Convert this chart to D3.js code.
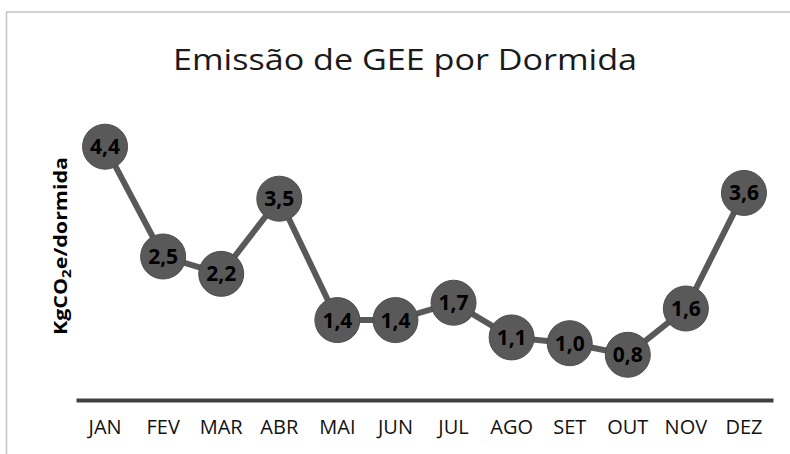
<!DOCTYPE html>
<html lang="pt">
  <head>
    <meta charset="UTF-8" />
    <title>Emissão de GEE por Dormida</title>
    <script src="https://cdn.jsdelivr.net/npm/d3@7"></script>
    <style>
      * { margin: 0; padding: 0; box-sizing: border-box; }
      body { background: #fff; }
      svg { display: block; font-family: "Open Sans", sans-serif; }
    </style>
  </head>
  <body>
    <svg id="chart" width="790" height="454"></svg>
    <script>
      // dados
      const meses = ["JAN", "FEV", "MAR", "ABR", "MAI", "JUN", "JUL", "AGO", "SET", "OUT", "NOV", "DEZ"];
      const emissoes = [4.4, 2.5, 2.2, 3.5, 1.4, 1.4, 1.7, 1.1, 1.0, 0.8, 1.6, 3.6];
      const titulo = "Emissão de GEE por Dormida";

      const svg = d3.select("#chart");

      // moldura do gráfico
      svg.append("rect")
        .attr("x", 6.5).attr("y", 12)
        .attr("width", 800).attr("height", 460)
        .attr("fill", "#fff")
        .attr("stroke", "#c4c4c4")
        .attr("stroke-width", 1.5);

      const x = d3.scaleBand().domain(meses).range([76, 773]);
      const y = d3.scaleLinear().domain([0, 5]).range([401, 112]);

      // titulo
      svg.append("text")
        .attr("x", 405).attr("y", 70)
        .attr("text-anchor", "middle")
        .attr("textLength", 464)
        .attr("lengthAdjust", "spacingAndGlyphs")
        .style("font-size", "30px")
        .style("fill", "#1a1a1a")
        .text(titulo);

      // eixo y label com subscrito
      const lbl = svg.append("text")
        .attr("transform", "translate(67,246) rotate(-90)")
        .attr("text-anchor", "middle")
        .attr("textLength", 178)
        .attr("lengthAdjust", "spacingAndGlyphs")
        .style("font-size", "17px")
        .style("font-weight", "bold")
        .style("fill", "#000");
      lbl.append("tspan").text("KgCO");
      lbl.append("tspan").attr("dy", 4).style("font-size", "12px").text("2");
      lbl.append("tspan").attr("dy", -4).text("e/dormida");

      // eixo x
      const eixo = svg.append("g")
        .attr("transform", "translate(0,400)")
        .call(d3.axisBottom(x).tickSize(0).tickPadding(20));
      eixo.select(".domain")
        .attr("stroke", "#404040")
        .attr("stroke-width", 4);
      eixo.selectAll("text")
        .style("font-size", "20px")
        .style("font-family", "'Open Sans', sans-serif")
        .attr("fill", "#111");

      // linha
      const linha = d3.line()
        .x((d, i) => x(meses[i]) + x.bandwidth() / 2)
        .y((d) => y(d));

      svg.append("path")
        .datum(emissoes)
        .attr("d", linha)
        .attr("fill", "none")
        .attr("stroke", "#595959")
        .attr("stroke-width", 6);

      const pontos = svg.selectAll(".ponto")
        .data(emissoes)
        .enter()
        .append("g")
        .attr("class", "ponto")
        .attr("transform", (d, i) => `translate(${x(meses[i]) + x.bandwidth() / 2},${y(d)})`);

      pontos.append("circle")
        .attr("r", 22.5)
        .attr("fill", "#595959")
        .attr("stroke", "#4d4d4d")
        .attr("stroke-width", 1);

      pontos.append("text")
        .attr("text-anchor", "middle")
        .attr("dy", "0.36em")
        .style("font-size", "21px")
        .style("font-weight", "bold")
        .style("fill", "#000")
        .text((d) => d.toFixed(1).replace(".", ","));
    </script>
  </body>
</html>
